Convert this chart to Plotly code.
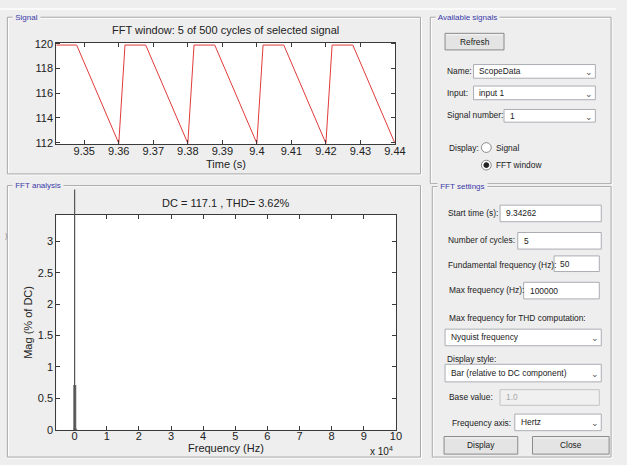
import plotly.graph_objects as go

W, H = 627, 465

# ---------------- data ----------------
sig_time = [9.3419, 9.3478, 9.3600, 9.3618, 9.3678, 9.3800, 9.3818, 9.3878,
            9.4000, 9.4018, 9.4078, 9.4200, 9.4218, 9.4278, 9.4400]
sig_value = [119.9, 119.9, 111.95, 119.9, 119.9, 111.95, 119.9, 119.9,
             111.95, 119.9, 119.9, 111.95, 119.9, 119.9, 111.95]
time_ticks = [9.35, 9.36, 9.37, 9.38, 9.39, 9.40, 9.41, 9.42, 9.43, 9.44]
time_ticklabels = ["9.35", "9.36", "9.37", "9.38", "9.39", "9.4", "9.41", "9.42", "9.43", "9.44"]
sig_yticks = [112, 114, 116, 118, 120]

dc_freq = [0]
dc_mag = [100.0]
harm_freq = [50, 100, 150, 200, 250, 300]
harm_mag = [0.71, 0.02, 0.015, 0.012, 0.01, 0.008]
freq_ticks = [0, 10000, 20000, 30000, 40000, 50000, 60000, 70000, 80000, 90000, 100000]
freq_ticklabels = ["0", "1", "2", "3", "4", "5", "6", "7", "8", "9", "10"]
mag_ticks = [0, 0.5, 1, 1.5, 2, 2.5, 3]
mag_ticklabels = ["0", "0.5", "1", "1.5", "2", "2.5", "3"]

BG = "#EEEEEE"
FONT = "Liberation Sans"
AX = "#3a3a3a"
GUI_SIZE = 8.4


def px(x):
    return x / W


def py(y):
    return 1 - y / H


def stems(xs, ys):
    X, Y = [], []
    for a, b in zip(xs, ys):
        X += [a, a, None]
        Y += [0, b, None]
    return X, Y


fig = go.Figure()

fig.add_trace(go.Scatter(x=sig_time, y=sig_value, mode="lines",
                         line=dict(color="#e03a3a", width=1),
                         xaxis="x", yaxis="y", hoverinfo="skip", showlegend=False))

hx, hy = stems(harm_freq, harm_mag)
fig.add_trace(go.Scatter(x=hx, y=hy, mode="lines", line=dict(color="#666666", width=3),
                         xaxis="x2", yaxis="y2", hoverinfo="skip", showlegend=False))

# DC bar extends beyond the axes top (as in the original, not clipped by the axes)
y2_top = 3.42
dc_top_px = 189
y3_top = y2_top * (435 - dc_top_px) / (435 - 215)
dx, dy = stems(dc_freq, dc_mag)
fig.add_trace(go.Scatter(x=dx, y=dy, mode="lines", line=dict(color="#555555", width=1.2),
                         xaxis="x2", yaxis="y3", hoverinfo="skip", showlegend=False))

axcommon = dict(showgrid=False, zeroline=False, ticks="inside", ticklen=4, tickcolor=AX,
                showline=True, linecolor=AX, linewidth=1, mirror="ticks",
                tickfont=dict(family=FONT, size=11, color="#222"))

fig.update_layout(
    width=W, height=H, margin=dict(l=0, r=0, t=0, b=0),
    paper_bgcolor=BG, plot_bgcolor="rgba(0,0,0,0)",
    showlegend=False,
    xaxis=dict(domain=[px(57.3), px(402)], range=[9.3419, 9.4400], anchor="y",
               tickvals=time_ticks, ticktext=time_ticklabels, ticklabelstandoff=-3,
               **axcommon),
    yaxis=dict(domain=[py(142.3), py(38.5)], range=[111.9, 120.1], anchor="x",
               tickvals=sig_yticks, **axcommon),
    xaxis2=dict(domain=[px(57.3), px(403)], range=[-5700, 100000], anchor="y2",
                tickvals=freq_ticks, ticktext=freq_ticklabels, ticklabelstandoff=-4,
                **axcommon),
    yaxis2=dict(domain=[py(435), py(215)], range=[0, y2_top], anchor="x2",
                tickvals=mag_ticks, ticktext=mag_ticklabels, **axcommon),
    yaxis3=dict(domain=[py(435), py(dc_top_px)], range=[0, y3_top], anchor="x2",
                visible=False, showgrid=False, zeroline=False),
)

shapes = []
annotations = []


def rect(x0, y0, x1, y1, line="#A0A0A0", fill=None, width=1, layer="below"):
    shapes.append(dict(type="rect", xref="paper", yref="paper",
                       x0=px(x0), x1=px(x1), y0=py(y1), y1=py(y0),
                       line=dict(color=line, width=width),
                       fillcolor=fill if fill else "rgba(0,0,0,0)", layer=layer))


def text(x, y, s, size=GUI_SIZE, color="#222", xanchor="left", bg=None, family=FONT, **kw):
    d = dict(xref="paper", yref="paper", x=px(x), y=py(y), text=s, showarrow=False,
             xanchor=xanchor, yanchor="middle",
             font=dict(family=family, size=size, color=color))
    if bg:
        d["bgcolor"] = bg
        d["borderpad"] = 0
    d.update(kw)
    annotations.append(d)


# top faint strip
shapes.append(dict(type="line", xref="paper", yref="paper", x0=0, x1=1, y0=py(4), y1=py(4),
                   line=dict(color="#fafafa", width=2), layer="below"))

# panels (etched look)
panels = [
    (7.5, 12.5, 428, 173, "Signal", 12),
    (438, 12.5, 622, 183, "Available signals", 443),
    (7.5, 185, 428, 463, "FFT analysis", 12),
    (440, 186, 622, 463, "FFT settings", 445),
]
for x0, y0, x1, y1, title, tx in panels:
    rect(x0 + 1, y0 + 1, x1 + 1, y1 + 1, line="#ffffff")
    rect(x0, y0, x1, y1, line="#a8a8a8")
    text(tx, y0, " " + title + " ", size=8, color="#3a3aa8", bg=BG)

# plot areas white
rect(57.3, 38.5, 402, 142.3, line="rgba(0,0,0,0)", fill="#ffffff")
rect(57.3, 215, 403, 435, line="rgba(0,0,0,0)", fill="#ffffff")

# chart texts
text(230, 26, "FFT window: 5 of 500 cycles of selected signal", size=11, xanchor="center")
text(230, 163, "Time (s)", size=11, xanchor="center")
text(230, 203, "DC = 117.1 , THD= 3.62%", size=11, xanchor="center")
text(230, 454, "Frequency (Hz)", size=11, xanchor="center")
text(29, 325, "Mag (% of DC)", size=11, xanchor="center", textangle=-90)
text(388, 457, "x 10<sup>4</sup>", size=10, xanchor="center")
text(3, 237, ")", size=7, color="#888")


def edit(x0, y0, x1, y1, s, color="#222", border="#ABADB3", fill="#ffffff"):
    rect(x0, y0, x1, y1, line=border, fill=fill)
    text(x0 + 4, (y0 + y1) / 2, s, color=color)


def popup(x0, y0, x1, y1, s):
    edit(x0, y0, x1, y1, s)
    text(x1 - 6, (y0 + y1) / 2 + 1, "⌄", size=9, color="#555", xanchor="center",
         family="DejaVu Sans")


def button(x0, y0, x1, y1, s):
    shapes.append(dict(type="rect", xref="paper", yref="paper",
                       x0=px(x0), x1=px(x1), y0=py(y1), y1=py(y0),
                       line=dict(color="#8a8a8a", width=1), fillcolor="#E4E4E4", layer="below"))
    shapes.append(dict(type="line", xref="paper", yref="paper",
                       x0=px(x0 + 1), x1=px(x1 - 1), y0=py(y0 + 1.5), y1=py(y0 + 1.5),
                       line=dict(color="#f6f6f6", width=1), layer="below"))
    text((x0 + x1) / 2, (y0 + y1) / 2, s, xanchor="center")


# Available signals panel
button(453, 29, 513, 46, "Refresh")
text(453, 68, "Name:")
popup(482, 61, 606, 75, "ScopeData")
text(453, 90, "Input:")
popup(482, 83, 606, 97, "input 1")
text(453, 113, "Signal number:")
popup(513, 107, 606, 120, "1")
text(455, 146, "Display:")
shapes.append(dict(type="circle", xref="paper", yref="paper",
                   x0=px(490), x1=px(500), y0=py(151), y1=py(141),
                   line=dict(color="#8a8a8a", width=1), fillcolor="#ffffff", layer="below"))
text(503, 146, "Signal")
shapes.append(dict(type="circle", xref="paper", yref="paper",
                   x0=px(490), x1=px(500), y0=py(169), y1=py(159),
                   line=dict(color="#8a8a8a", width=1), fillcolor="#ffffff", layer="below"))
shapes.append(dict(type="circle", xref="paper", yref="paper",
                   x0=px(492.5), x1=px(497.5), y0=py(166.5), y1=py(161.5),
                   line=dict(color="#222", width=1), fillcolor="#222", layer="below"))
text(503, 164, "FFT window")

# FFT settings panel
text(454, 213, "Start time (s):")
edit(509, 205, 612, 222, "9.34262")
text(454, 241, "Number of cycles:")
edit(527, 233, 612, 250, "5")
text(454, 266, "Fundamental frequency (Hz):")
edit(564, 257, 610, 273, "50")
text(455, 292, "Max frequency (Hz):")
edit(533, 284, 610, 301, "100000")
text(455, 321, "Max frequency for THD computation:")
popup(453, 332, 612, 349, "Nyquist frequency")
text(453, 363, "Display style:")
popup(453, 368, 612, 386, "Bar (relative to DC component)")
text(455, 401, "Base value:")
edit(509, 394, 610, 410, "1.0", color="#aaaaaa", border="#c4c4c4", fill="#f0f0f0")
text(458, 428, "Frequency axis:")
popup(524, 419, 612, 436, "Hertz")
button(452, 442, 527, 460, "Display")
button(542, 442, 620, 460, "Close")

fig.update_layout(shapes=shapes, annotations=annotations)
fig.write_html("out.html", config={"displayModeBar": False},
               post_script="document.body.style.margin='0';document.body.style.overflow='hidden';")
